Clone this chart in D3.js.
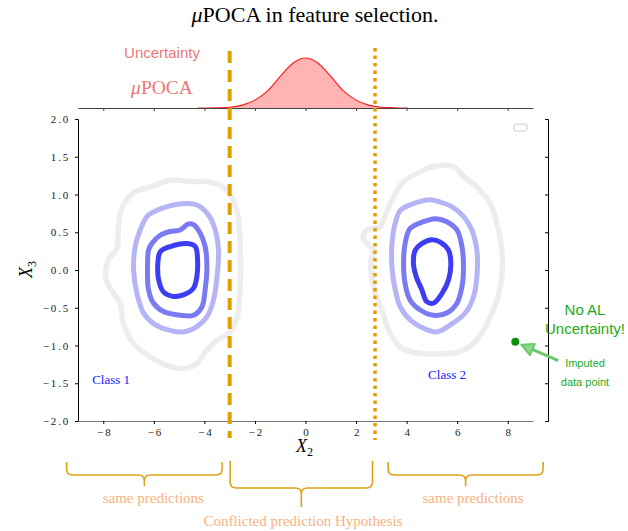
<!DOCTYPE html>
<html><head><meta charset="utf-8">
<script src="https://cdn.jsdelivr.net/npm/d3@7"></script>
<style>body{margin:0;background:#fff}svg{display:block}</style>
</head><body><svg id="c" width="628" height="531"></svg>
<script>
// ---------- data ----------
const xTicks = [-8, -6, -4, -2, 0, 2, 4, 6, 8];
const yTicks = [-2, -1.5, -1, -0.5, 0, 0.5, 1, 1.5, 2];

// marginal uncertainty density
const densityX = [-4.25, -3.5, -3, -2.5, -2, -1.5, -1, -0.5, 0, 0.5, 1, 1.5, 2, 2.5, 3, 3.5, 4.05];
const densityY = [0.000, 0.002, 0.006, 0.022, 0.06, 0.13, 0.24, 0.34, 0.38, 0.34, 0.24, 0.13, 0.06, 0.022, 0.006, 0.002, 0.000];

// decision lines
const dashedLineX = -3;
const dottedLineX = 2.75;

// contour rings (x2, x3)
const class1Outer = [[-6.14,1.10],[-5.35,1.19],[-4.56,1.17],[-3.89,1.17],[-3.26,1.10],[-2.86,0.93],[-2.66,0.70],[-2.58,0.26],[-2.58,-0.17],[-2.70,-0.62],[-2.98,-0.82],[-3.49,-0.93],[-3.89,-1.06],[-4.28,-1.23],[-4.68,-1.30],[-5.35,-1.28],[-6.14,-1.15],[-6.81,-0.97],[-7.21,-0.70],[-7.33,-0.44],[-7.61,-0.30],[-7.84,-0.17],[-7.92,-0.04],[-7.80,0.13],[-7.45,0.30],[-7.41,0.57],[-7.25,0.83],[-6.81,1.02]];
const class1Light = [[-5.48,0.84],[-4.69,0.88],[-4.30,0.86],[-3.84,0.73],[-3.57,0.53],[-3.44,0.26],[-3.50,-0.09],[-3.64,-0.40],[-3.90,-0.62],[-4.30,-0.75],[-4.83,-0.82],[-5.48,-0.79],[-6.01,-0.71],[-6.41,-0.57],[-6.67,-0.31],[-6.80,0.00],[-6.74,0.31],[-6.54,0.53],[-6.27,0.71],[-6.01,0.77]];
const class1Mid = [[-6.08,0.35],[-5.75,0.46],[-5.35,0.51],[-4.96,0.53],[-4.63,0.61],[-4.43,0.60],[-4.17,0.49],[-3.97,0.31],[-3.90,0.04],[-3.97,-0.26],[-4.10,-0.49],[-4.43,-0.60],[-4.96,-0.60],[-5.62,-0.55],[-6.01,-0.44],[-6.21,-0.26],[-6.25,0.04],[-6.21,0.26]];
const class1Core = [[-5.75,0.24],[-5.35,0.31],[-4.69,0.35],[-4.36,0.31],[-4.27,0.13],[-4.30,-0.09],[-4.43,-0.24],[-4.83,-0.33],[-5.22,-0.35],[-5.62,-0.29],[-5.81,-0.13],[-5.84,0.09]];

const class2Outer = [[3.88,1.17],[4.41,1.28],[5.06,1.37],[5.85,1.37],[6.25,1.24],[6.78,1.10],[7.31,0.88],[7.57,0.62],[7.77,0.26],[7.77,-0.09],[7.57,-0.40],[7.18,-0.71],[6.71,-0.95],[6.12,-1.08],[5.33,-1.11],[4.41,-1.10],[3.75,-1.02],[3.28,-0.79],[3.02,-0.53],[2.76,-0.31],[2.63,-0.09],[2.56,0.09],[2.69,0.26],[2.49,0.33],[2.29,0.42],[2.36,0.51],[2.69,0.55],[2.95,0.57],[3.15,0.71],[3.42,0.93]];
const class2Light = [[3.75,0.79],[4.27,0.88],[4.93,0.93],[5.33,0.90],[5.79,0.84],[6.25,0.71],[6.58,0.53],[6.78,0.26],[6.78,-0.09],[6.65,-0.35],[6.32,-0.57],[5.72,-0.73],[5.20,-0.82],[4.80,-0.79],[4.14,-0.66],[3.75,-0.49],[3.55,-0.26],[3.42,0.04],[3.42,0.35],[3.55,0.62]];
const class2Mid = [[4.14,0.55],[4.67,0.64],[5.13,0.68],[5.59,0.64],[5.99,0.53],[6.19,0.31],[6.25,0.04],[6.19,-0.22],[5.99,-0.44],[5.59,-0.57],[5.06,-0.60],[4.54,-0.53],[4.14,-0.40],[3.94,-0.18],[3.88,0.09],[3.94,0.35]];
const class2Core = [[4.34,0.26],[4.60,0.35],[5.00,0.40],[5.33,0.37],[5.66,0.26],[5.75,0.09],[5.66,-0.13],[5.40,-0.31],[5.06,-0.44],[4.80,-0.42],[4.60,-0.26],[4.38,-0.09],[4.27,0.09]];

const classLabels = ["Class 1", "Class 2"];
const classLabelX = [-7.69, 5.6];
const classLabelY = [-1.46, -1.39];

const imputedPoint = [8.3, -0.95];

const braceFrom = [-9.45, -2.98, 3.27];
const braceTo = [-3.3, 2.65, 9.4];
const braceLabels = ["same predictions", "Conflicted prediction Hypothesis", "same predictions"];
const braceLabelX = [-6.02, -0.1, 6.63];

// ---------- drawing ----------
const svg = d3.select("#c");
const serif = "'Liberation Serif','DejaVu Serif',serif";
const sans = "'Liberation Sans',Arial,sans-serif";

const x = d3.scaleLinear().domain([-9, 9]).range([78, 533]);
const y = d3.scaleLinear().domain([-2, 2]).range([421, 119]);
const yd = d3.scaleLinear().domain([0, 0.38]).range([108, 58]);

// title
const title = svg.append("text").attr("x", 315).attr("y", 22).attr("text-anchor", "middle")
  .attr("font-family", serif).attr("font-size", 22).attr("fill", "#000");
title.append("tspan").attr("font-style", "italic").text("μ");
title.append("tspan").text("POCA in feature selection.");

// marginal density
const dens = densityX.map((d, i) => [d, densityY[i]]);
svg.append("path").datum(dens)
  .attr("d", d3.area().x(d => x(d[0])).y0(yd(0)).y1(d => yd(d[1])).curve(d3.curveMonotoneX))
  .attr("fill", "#ffb3b3");
svg.append("path").datum(dens)
  .attr("d", d3.line().x(d => x(d[0])).y(d => yd(d[1])).curve(d3.curveMonotoneX))
  .attr("fill", "none").attr("stroke", "#ff1a1a").attr("stroke-width", 1.1);

const topAxis = svg.append("g").attr("transform", `translate(0,${yd(0)})`)
  .call(d3.axisBottom(x).tickValues(xTicks).tickFormat("").tickSize(3).tickSizeOuter(0));
topAxis.select(".domain").attr("stroke", "#444");
topAxis.selectAll(".tick line").attr("stroke", "#444");

svg.append("text").attr("x", 162).attr("y", 58).attr("text-anchor", "middle")
  .attr("font-family", sans).attr("font-size", 15).attr("fill", "#ee7777").text("Uncertainty");
const mp = svg.append("text").attr("x", 162).attr("y", 94).attr("text-anchor", "middle")
  .attr("font-family", serif).attr("font-size", 19.5).attr("fill", "#ee7777");
mp.append("tspan").attr("font-style", "italic").text("μ");
mp.append("tspan").text("POCA");

// axes
function styleTicks(g) {
  g.selectAll(".tick text").attr("font-family", serif).attr("font-size", 11).attr("fill", "#222").attr("letter-spacing", "1.8px");
}
const leftAxis = svg.append("g").attr("transform", "translate(78,0)")
  .call(d3.axisLeft(y).tickValues(yTicks).tickFormat(d3.format(".1f")).tickSize(3).tickPadding(5));
styleTicks(leftAxis);
const rightAxis = svg.append("g").attr("transform", "translate(548,0)")
  .call(d3.axisLeft(y).tickValues(yTicks).tickFormat("").tickSize(3));
const bottomAxis = svg.append("g").attr("transform", "translate(0,421)")
  .call(d3.axisBottom(x).tickValues(xTicks).tickFormat(d3.format("d")).tickSize(3).tickSizeOuter(0).tickPadding(4));
styleTicks(bottomAxis);
bottomAxis.selectAll(".tick text").attr("dx", "1px");
bottomAxis.select(".domain").attr("stroke", "#777");

// axis labels
const xl = svg.append("text").attr("x", 296).attr("y", 452).attr("font-family", serif).attr("font-size", 18).attr("fill", "#000");
xl.append("tspan").attr("font-style", "italic").text("X");
xl.append("tspan").attr("font-size", 12).attr("dy", 4).text("2");
const yl = svg.append("text").attr("transform", "translate(32,278) rotate(-90)").attr("font-family", serif).attr("font-size", 18).attr("fill", "#000");
yl.append("tspan").attr("font-style", "italic").text("X");
yl.append("tspan").attr("font-size", 12).attr("dy", 4).text("3");

// legend placeholder box
svg.append("rect").attr("x", 514).attr("y", 124).attr("width", 13).attr("height", 7).attr("rx", 2)
  .attr("fill", "#fff").attr("stroke", "#cccccc").attr("stroke-width", 1);

// contours
const ring = d3.line().x(d => x(d[0])).y(d => y(d[1])).curve(d3.curveCatmullRomClosed.alpha(0.5));
const rings = [
  [class1Outer, "#ededed", 5.5], [class2Outer, "#ededed", 5.5],
  [class1Light, "#b5b5f5", 5], [class2Light, "#b5b5f5", 5],
  [class1Mid, "#7a7af2", 5], [class2Mid, "#7a7af2", 5],
  [class1Core, "#3d3df3", 5], [class2Core, "#3d3df3", 5]
];
svg.append("g").selectAll("path").data(rings).join("path")
  .attr("d", d => ring(d[0])).attr("fill", "none")
  .attr("stroke", d => d[1]).attr("stroke-width", d => d[2]).attr("stroke-linejoin", "round");

// class labels
svg.append("g").selectAll("text").data(classLabels).join("text")
  .attr("x", (d, i) => x(classLabelX[i])).attr("y", (d, i) => y(classLabelY[i]) + 4)
  .attr("text-anchor", "middle").attr("font-family", serif).attr("font-size", 13).attr("fill", "#1a1aff")
  .text(d => d);

// decision lines
svg.append("line").attr("x1", x(dashedLineX)).attr("x2", x(dashedLineX)).attr("y1", 51).attr("y2", 438)
  .attr("stroke", "#e0a000").attr("stroke-width", 4).attr("stroke-dasharray", "12,7");
svg.append("line").attr("x1", x(dottedLineX)).attr("x2", x(dottedLineX)).attr("y1", 48).attr("y2", 440)
  .attr("stroke", "#e0a000").attr("stroke-width", 3.5).attr("stroke-dasharray", "3.5,4");

// imputed point + arrow
const px = x(imputedPoint[0]), py = y(imputedPoint[1]);
const ax0 = px + 43, ay0 = py + 19, ax1 = px + 6, ay1 = py + 3;
svg.append("line").attr("x1", ax0).attr("y1", ay0).attr("x2", ax1 + 8).attr("y2", ay1 + 3.5)
  .attr("stroke", "#6cc86c").attr("stroke-width", 3);
const ang = Math.atan2(ay1 - ay0, ax1 - ax0);
const hl = 12, hw = 6;
const bx = ax1 - hl * Math.cos(ang), by = ay1 - hl * Math.sin(ang);
svg.append("path")
  .attr("d", `M${ax1},${ay1}L${bx + hw * Math.sin(ang)},${by - hw * Math.cos(ang)}L${bx - hw * Math.sin(ang)},${by + hw * Math.cos(ang)}Z`)
  .attr("fill", "#8ad88a").attr("stroke", "#6cc86c").attr("stroke-width", 2).attr("stroke-linejoin", "round");
svg.append("circle").attr("cx", px).attr("cy", py).attr("r", 4).attr("fill", "#0a8f0a");

const green = "#22aa22";
svg.append("text").attr("x", 585).attr("y", 315).attr("text-anchor", "middle").attr("font-family", sans).attr("font-size", 15).attr("fill", green).text("No AL");
svg.append("text").attr("x", 585).attr("y", 334).attr("text-anchor", "middle").attr("font-family", sans).attr("font-size", 15).attr("fill", green).text("Uncertainty!");
svg.append("text").attr("x", 585).attr("y", 367).attr("text-anchor", "middle").attr("font-family", sans).attr("font-size", 11).attr("fill", green).text("Imputed");
svg.append("text").attr("x", 585).attr("y", 386).attr("text-anchor", "middle").attr("font-family", sans).attr("font-size", 11).attr("fill", green).text("data point");

// braces
function brace(x0, x1, y0, y1, y2, r) {
  const xm = (x0 + x1) / 2;
  return `M${x0},${y0}L${x0},${y1 - r}Q${x0},${y1} ${x0 + r},${y1}L${xm - r},${y1}Q${xm},${y1} ${xm},${y1 + r}L${xm},${y2}` +
         `M${xm},${y1 + r}Q${xm},${y1} ${xm + r},${y1}L${x1 - r},${y1}Q${x1},${y1} ${x1},${y1 - r}L${x1},${y0}`;
}
const braceY = [[462, 475, 486], [461, 488, 507], [462, 475, 486]];
svg.append("g").selectAll("path").data(braceFrom).join("path")
  .attr("d", (d, i) => brace(x(d), x(braceTo[i]), braceY[i][0], braceY[i][1], braceY[i][2], 6))
  .attr("fill", "none").attr("stroke", "#dda21a").attr("stroke-width", 1.6);
const braceTextY = [503, 526, 503];
svg.append("g").selectAll("text").data(braceLabels).join("text")
  .attr("x", (d, i) => x(braceLabelX[i])).attr("y", (d, i) => braceTextY[i])
  .attr("text-anchor", "middle").attr("font-family", serif).attr("font-size", 15).attr("fill", "#f8b27e")
  .text(d => d);
</script></body></html>
